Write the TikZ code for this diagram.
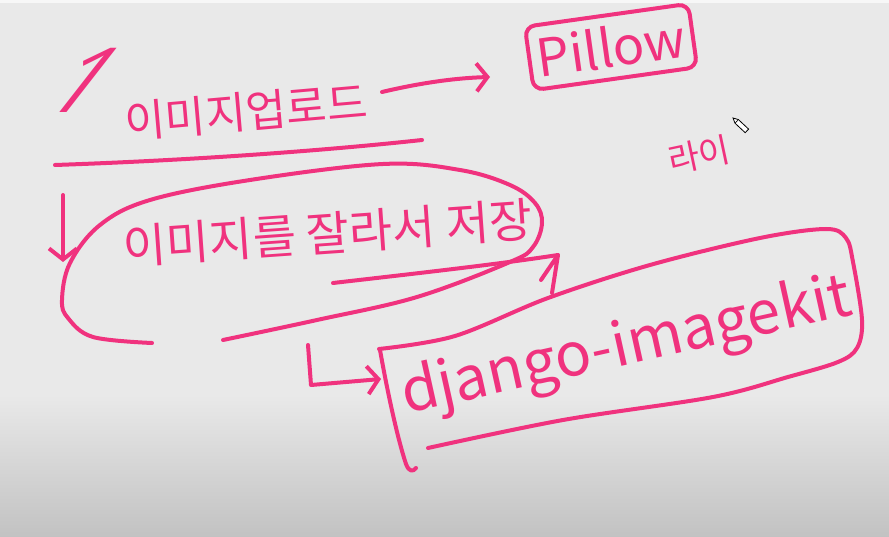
\documentclass[tikz,border=0pt]{standalone}
\usepackage{fontspec}
\newfontfamily\kr{Noto Sans CJK KR}
\newfontfamily\os{Open Sans}
\usetikzlibrary{arrows.meta}
\definecolor{ink}{HTML}{F0327E}
\definecolor{bgmain}{HTML}{E9E9E9}
\definecolor{bgdark}{HTML}{C2C2C2}
\definecolor{bgtop}{HTML}{F7F7F7}
\newcommand{\hsz}[1]{\kr\fontsize{#1}{#1}\selectfont}
\begin{document}
\begin{tikzpicture}[x=1pt,y=-1pt,
  pen/.style={draw=ink, line width=4pt, line cap=round, line join=round},
  hand/.style={text=ink, inner sep=0pt},
  barb/.style={-{Straight Barb[length=11pt,width=28pt]}}
]
% background
\fill[bgmain] (0,0) rectangle (889,537);
\fill[bgtop] (0,0) rectangle (889,3);
\shade[top color=bgmain, bottom color=bgdark] (0,395) rectangle (889,537);
\useasboundingbox (0,0) rectangle (889,537);

% texts
\node[hand, font=\os\fontsize{90}{90}\selectfont, xslant=0.78] (one) at (86,80) {1};
\node[hand, font=\hsz{44}, rotate=5] (up) at (246,112) {이미지업로드};
\node[hand, font=\hsz{52}, rotate=8, draw=ink, line width=4pt, rounded corners=10pt,
      minimum width=165pt, minimum height=64pt] (pillow) at (611,47) {Pillow};
\node[hand, font=\hsz{47}, rotate=4] (crop) at (328,233) {이미지를 잘라서 저장};
\node[hand, font=\hsz{60}, rotate=12.5] (dj) at (627,348) {django-imagekit};
\node[hand, font=\hsz{34}, rotate=12] (lib) at (699,155) {라이};

% underline
\draw[pen] (55,165) .. controls (200,160) and (330,150) .. (422,140);

% arrow upload -> Pillow
\coordinate (a1s) at (382,92);
\coordinate (a1e) at (490,77);
\draw[pen, barb] (a1s) .. controls (420,83) and (455,78) .. (a1e);

% down arrow
\coordinate (d1s) at (63,195);
\coordinate (d1e) at (63,262);
\draw[pen, barb] (d1s) -- (d1e);

% ellipse around crop text
\draw[pen] plot[smooth, tension=0.6] coordinates {(152,343) (93,337) (68,318) (62,300) (70,263) (100,225) (150,200) (250,180) (383,164) (460,170) (510,185) (535,203) (542,223) (533,247) (510,262) (417,297) (317,320) (223,340)};

% arrow ellipse -> django box
\coordinate (a2s) at (333,283);
\coordinate (a2e) at (558,255);
\draw[pen] (a2s) .. controls (420,273) and (500,264) .. (a2e);
\draw[pen] (541,280) -- (a2e) -- (552,293);

% L arrow into django box
\coordinate (a3s) at (308,345);
\coordinate (a3e) at (381,379);
\draw[pen, barb] (a3s) -- (311,385) -- (a3e);

% django box
\draw[pen] (380,350) .. controls (388,395) and (398,440) .. (406,464) .. controls (409,472) and (413,472) .. (416,468);
\draw[pen] plot[smooth, tension=0.55] coordinates {(379,349) (455,336) (548,298) (650,265) (760,238) (826,229) (846,238) (853,262) (862,320) (857,348) (838,362) (788,377) (713,397) (563,420) (428,448)};

% pencil cursor
\draw[line width=0.8pt, fill=white] (733,118) -- (738.4,119.6) -- (748.6,129.1) -- (745.2,132.7) -- (735,123.2) -- cycle;
\draw[line width=0.6pt] (738.4,119.6) -- (735,123.2);
\end{tikzpicture}
\end{document}
